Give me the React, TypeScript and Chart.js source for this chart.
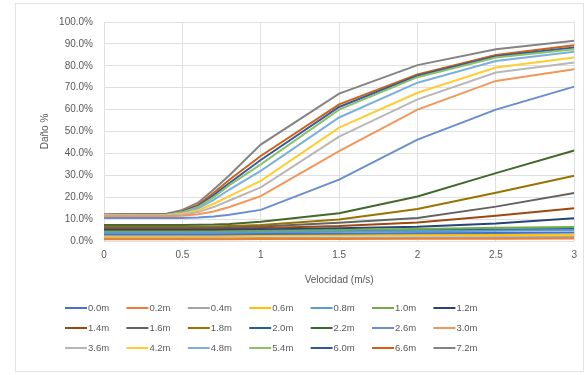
import React, { useEffect, useRef } from "react";
import { Chart, registerables } from "chart.js";

Chart.register(...registerables);

const VELOCITY = [0, 0.4, 0.5, 0.6, 0.7, 0.8, 1.0, 1.5, 2.0, 2.5, 3.0];
const X_TICKS = [0, 0.5, 1, 1.5, 2, 2.5, 3];

const SERIES_NAMES = [
  "0.0m", "0.2m", "0.4m", "0.6m", "0.8m", "1.0m", "1.2m",
  "1.4m", "1.6m", "1.8m", "2.0m", "2.2m", "2.6m", "3.0m",
  "3.6m", "4.2m", "4.8m", "5.4m", "6.0m", "6.6m", "7.2m",
];

const SERIES_COLORS = [
  "#4472C4", "#ED7D31", "#A5A5A5", "#FFC000", "#5B9BD5", "#70AD47", "#264478",
  "#9E480E", "#636363", "#997300", "#255E91", "#43682B", "#698ED0", "#F1975A",
  "#B7B7B7", "#FFCD33", "#7CAFDD", "#8CC168", "#335AA1", "#D26012", "#848484",
];

const D_0_0 = [3.0, 3.0, 3.0, 3.0, 3.0, 3.1, 3.2, 3.3, 3.5, 3.7, 3.9];
const D_0_2 = [0.8, 0.8, 0.8, 0.8, 0.8, 0.8, 0.9, 0.9, 1.0, 1.0, 1.1];
const D_0_4 = [1.2, 1.2, 1.2, 1.2, 1.2, 1.3, 1.4, 1.5, 1.6, 1.7, 1.8];
const D_0_6 = [2.2, 2.2, 2.2, 2.2, 2.2, 2.3, 2.4, 2.5, 2.6, 2.7, 2.8];
const D_0_8 = [3.8, 3.8, 3.8, 3.8, 3.8, 3.9, 4.0, 4.2, 4.4, 4.7, 5.0];
const D_1_0 = [4.3, 4.3, 4.3, 4.3, 4.3, 4.4, 4.6, 5.0, 5.5, 6.0, 6.4];
const D_1_2 = [5.0, 5.0, 5.0, 5.0, 5.0, 5.1, 5.3, 5.8, 6.5, 8.0, 10.4];
const D_1_4 = [5.5, 5.5, 5.5, 5.5, 5.5, 5.6, 5.9, 6.8, 8.5, 11.5, 15.0];
const D_1_6 = [6.0, 6.0, 6.0, 6.0, 6.1, 6.2, 6.6, 8.3, 10.5, 15.7, 21.9];
const D_1_8 = [6.5, 6.5, 6.5, 6.5, 6.6, 6.8, 7.3, 9.8, 14.6, 22.0, 29.8];
const D_2_0 = [4.8, 4.8, 4.8, 4.8, 4.8, 4.8, 4.9, 5.0, 5.1, 5.3, 5.5];
const D_2_2 = [7.3, 7.3, 7.3, 7.4, 7.5, 7.8, 8.8, 12.7, 20.3, 31.0, 41.3];
const D_2_6 = [10.5, 10.5, 10.5, 10.7, 11.2, 12.0, 14.2, 28.0, 46.3, 60.0, 70.5];
const D_3_0 = [11.3, 11.3, 11.5, 12.2, 13.5, 15.5, 20.5, 41.0, 60.0, 73.1, 78.4];
const D_3_6 = [11.5, 11.6, 12.0, 13.2, 15.5, 18.5, 24.5, 47.7, 64.7, 76.9, 81.5];
const D_4_2 = [11.6, 11.8, 12.4, 14.0, 17.0, 20.5, 27.5, 51.8, 67.7, 79.2, 83.8];
const D_4_8 = [11.8, 12.0, 12.8, 14.8, 18.8, 23.5, 32.0, 56.4, 72.3, 82.2, 86.4];
const D_5_4 = [11.9, 12.1, 13.2, 15.5, 20.0, 25.5, 35.0, 60.0, 74.8, 83.8, 87.6];
const D_6_0 = [12.0, 12.2, 13.4, 16.0, 21.0, 26.5, 37.0, 61.2, 75.5, 84.4, 88.4];
const D_6_6 = [12.0, 12.3, 13.6, 16.5, 22.0, 28.0, 38.8, 62.4, 76.1, 84.9, 89.4];
const D_7_2 = [12.1, 12.5, 14.2, 17.5, 23.5, 30.0, 44.0, 67.3, 80.3, 87.6, 91.4];

const SERIES_VALUES = [
  D_0_0, D_0_2, D_0_4, D_0_6, D_0_8, D_1_0, D_1_2,
  D_1_4, D_1_6, D_1_8, D_2_0, D_2_2, D_2_6, D_3_0,
  D_3_6, D_4_2, D_4_8, D_5_4, D_6_0, D_6_6, D_7_2,
];

const Y_MAX = 100;
const FONT = "'Liberation Sans', Arial, sans-serif";
const TEXT_COLOR = "#595959";

const framePlugin = {
  id: "frame",
  beforeDraw(chart: any) {
    const ctx = chart.ctx;
    ctx.save();
    ctx.fillStyle = "#ffffff";
    ctx.fillRect(0, 0, chart.width, chart.height);
    ctx.strokeStyle = "#e3e3e3";
    ctx.lineWidth = 1;
    ctx.strokeRect(15.5, 3.5, 568, 368);
    ctx.restore();
  },
};

const legendPlugin = {
  id: "customLegend",
  afterDraw(chart: any) {
    const ctx = chart.ctx;
    const ds = chart.data.datasets;
    ctx.save();
    ctx.font = `9.5px ${FONT}`;
    ctx.textBaseline = "middle";
    ctx.textAlign = "left";
    const startX = 65;
    const colW = 61.4;
    const rowY = [308, 328, 348];
    ds.forEach((d: any, i: number) => {
      const row = Math.floor(i / 7);
      const col = i % 7;
      const x = startX + col * colW;
      const y = rowY[row];
      ctx.strokeStyle = d.borderColor;
      ctx.lineWidth = 2;
      ctx.beginPath();
      ctx.moveTo(x, y);
      ctx.lineTo(x + 22, y);
      ctx.stroke();
      ctx.fillStyle = TEXT_COLOR;
      ctx.fillText(d.label, x + 23, y + 0.5);
    });
    ctx.restore();
  },
};

export default function App() {
  const ref = useRef<HTMLCanvasElement | null>(null);

  useEffect(() => {
    if (!ref.current) return;
    const datasets = SERIES_NAMES.map((name, i) => ({
      label: name,
      data: VELOCITY.map((v, j) => ({ x: v, y: SERIES_VALUES[i][j] })),
      borderColor: SERIES_COLORS[i],
      backgroundColor: SERIES_COLORS[i],
      borderWidth: 2,
      pointRadius: 0,
      tension: 0,
      fill: false,
    }));
    const chart = new Chart(ref.current, {
      type: "line",
      data: { datasets },
      plugins: [framePlugin, legendPlugin],
      options: {
        animation: false,
        responsive: false,
        maintainAspectRatio: false,
        layout: { padding: { left: 16, right: 10, top: 22, bottom: 89 } },
        plugins: {
          legend: { display: false },
          tooltip: { enabled: false },
        },
        scales: {
          x: {
            type: "linear",
            min: 0,
            max: 3,
            afterBuildTicks: (scale: any) => {
              scale.ticks = X_TICKS.map((v) => ({ value: v }));
            },
            afterFit: (scale: any) => {
              scale.height = 45;
            },
            grid: { color: "#e0e0e0", drawTicks: false, lineWidth: 1 },
            border: { display: false },
            ticks: {
              color: TEXT_COLOR,
              font: { size: 10, family: FONT },
              padding: 8,
              maxRotation: 0,
              callback: (v: any) => String(v),
            },
            title: {
              display: true,
              text: "Velocidad (m/s)",
              color: TEXT_COLOR,
              font: { size: 10, family: FONT },
              padding: { top: 0, bottom: 0 },
            },
          },
          y: {
            min: 0,
            max: Y_MAX,
            afterFit: (scale: any) => {
              scale.width = 88;
            },
            grid: { color: "#e0e0e0", drawTicks: false, lineWidth: 1 },
            border: { display: false },
            ticks: {
              stepSize: 10,
              color: TEXT_COLOR,
              font: { size: 10, family: FONT },
              padding: 11,
              callback: (v: any) => `${Number(v).toFixed(1)}%`,
            },
            title: {
              display: true,
              text: "Daño %",
              color: TEXT_COLOR,
              font: { size: 10, family: FONT },
              padding: { top: 23, bottom: 0 },
            },
          },
        },
      },
    });
    return () => chart.destroy();
  }, []);

  return (
    <div style={{ position: "fixed", left: 0, top: 0, width: 585, height: 375, background: "#fff" }}>
      <canvas ref={ref} width={585} height={375} style={{ width: 585, height: 375, display: "block" }} />
    </div>
  );
}
